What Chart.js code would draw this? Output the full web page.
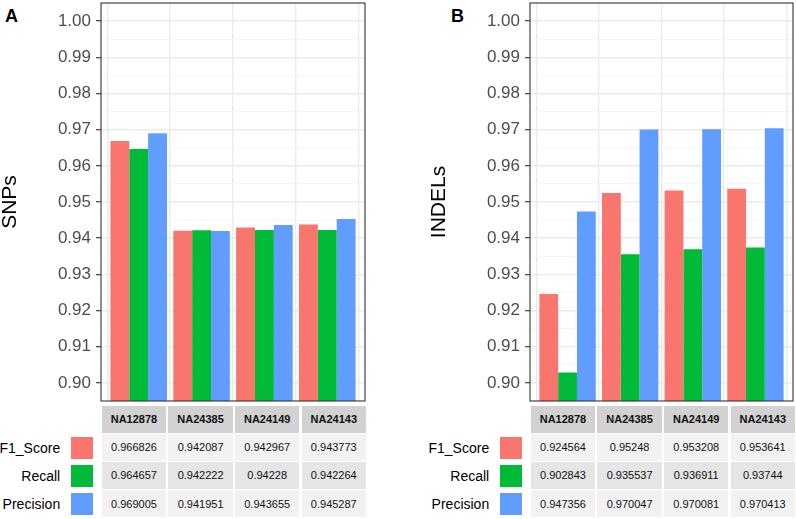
<!DOCTYPE html>
<html>
<head>
<meta charset="utf-8">
<script src="https://cdn.jsdelivr.net/npm/chart.js@4.4.1/dist/chart.umd.min.js"></script>
<style>
html,body{margin:0;padding:0;background:#fff;width:796px;height:519px;overflow:hidden;font-family:'Liberation Sans',Arial,sans-serif;}
.box{position:absolute;}
.letter{position:absolute;font-weight:bold;font-size:18px;line-height:1;color:#000;}
.cell{position:absolute;display:flex;align-items:center;justify-content:center;font-size:11px;color:#111;}
.hdr{font-weight:bold;background:#D2D2D2;}
.r0{background:#F2F2F2;}
.r1{background:#E5E5E5;}
.lab{position:absolute;font-size:14px;color:#000;text-align:right;line-height:1;}
.sw{position:absolute;}
</style>
</head>
<body>
<div class="letter" style="left:5px;top:7px;">A</div>
<div class="letter" style="left:451px;top:7px;">B</div>
<div class="box" style="left:0px;top:0px;width:369px;height:405px;"><canvas id="cA" width="369" height="405"></canvas></div>
<div class="box" style="left:429px;top:0px;width:367px;height:405px;"><canvas id="cB" width="367" height="405"></canvas></div>
<div id="tables"></div>
<script>
// ---- data ----
const categories = ['NA12878', 'NA24385', 'NA24149', 'NA24143'];
const seriesNames = ['F1_Score', 'Recall', 'Precision'];

const snpF1        = [0.966826, 0.942087, 0.942967, 0.943773];
const snpRecall    = [0.964657, 0.942222, 0.94228,  0.942264];
const snpPrecision = [0.969005, 0.941951, 0.943655, 0.945287];

const indelF1        = [0.924564, 0.95248,  0.953208, 0.953641];
const indelRecall    = [0.902843, 0.935537, 0.936911, 0.93744];
const indelPrecision = [0.947356, 0.970047, 0.970081, 0.970413];

const yTicks = [0.90, 0.91, 0.92, 0.93, 0.94, 0.95, 0.96, 0.97, 0.98, 0.99, 1.00];
const yMin = 0.895, yMax = 1.005;

const seriesColors = ['#F8766D', '#00BA38', '#619CFF'];
const FONT = "'Liberation Sans', Arial, sans-serif";

const panelBorder = {
  id: 'panelBorder',
  afterDraw(chart) {
    const {ctx, chartArea: a} = chart;
    ctx.save();
    ctx.strokeStyle = '#333333';
    ctx.lineWidth = 1.1;
    ctx.strokeRect(a.left, a.top, a.right - a.left, a.bottom - a.top);
    ctx.restore();
  }
};

function makeChart(id, series, title, padRight) {
  new Chart(document.getElementById(id), {
    type: 'bar',
    data: {
      datasets: seriesNames.map((n, k) => ({
        label: n,
        data: categories.map((c, i) => ({x: i + 1, y: series[k][i]})),
        backgroundColor: seriesColors[k],
        borderWidth: 0,
        categoryPercentage: 0.9,
        barPercentage: 1.0
      }))
    },
    options: {
      responsive: false,
      animation: false,
      events: [],
      layout: {padding: {left: 0, top: 3, right: padRight, bottom: 4}},
      plugins: {legend: {display: false}, tooltip: {enabled: false}},
      scales: {
        x: {
          type: 'linear', min: 0.4, max: 4.6, offset: false,
          afterBuildTicks: s => { s.ticks = categories.map((c, i) => ({value: i + 1})); },
          ticks: {display: false},
          grid: {color: '#EBEBEB', lineWidth: 1.4, drawTicks: false},
          border: {display: false}
        },
        y: {
          type: 'linear', min: yMin, max: yMax,
          afterBuildTicks: s => {
            const t = [];
            yTicks.forEach((v, i) => {
              t.push({value: v});
              if (i < yTicks.length - 1) t.push({value: (v + yTicks[i + 1]) / 2});
            });
            s.ticks = t;
          },
          afterFit: s => { s.width = 101; s.paddingTop = 0; s.paddingBottom = 0; },
          ticks: {
            autoSkip: false,
            padding: 5,
            color: '#4D4D4D',
            font: {family: FONT, size: 17},
            callback: (v, i) => (i % 2 === 0 ? Number(v).toFixed(2) : '')
          },
          grid: {
            color: ctx => (ctx.index % 2 === 0 ? '#EBEBEB' : '#F3F3F3'),
            lineWidth: ctx => (ctx.index % 2 === 0 ? 1.4 : 0.8),
            tickLength: 5,
            tickColor: ctx => (ctx.index % 2 === 0 ? '#333333' : 'rgba(0,0,0,0)'),
            tickWidth: 1.1
          },
          border: {display: false},
          title: {display: true, text: title, color: '#000', padding: 0,
                  font: {family: FONT, size: 21, lineHeight: 1}}
        }
      }
    },
    plugins: [panelBorder]
  });
}

makeChart('cA', [snpF1, snpRecall, snpPrecision], 'SNPs', 4);
makeChart('cB', [indelF1, indelRecall, indelPrecision], 'INDELs', 3);

// ---- tables under each panel ----
function makeTable(left, series) {
  const root = document.getElementById('tables');
  const cw = 64.6, gap = 2;
  const hdrTop = 405.5, hdrH = 27;
  const rowTop = 434, rowH = 26.5, pitch = 28.2;
  categories.forEach((c, j) => {
    const d = document.createElement('div');
    d.className = 'cell hdr';
    d.style.cssText = `left:${left + j * (cw + gap)}px;top:${hdrTop}px;width:${cw}px;height:${hdrH}px;`;
    d.textContent = c;
    root.appendChild(d);
  });
  seriesNames.forEach((n, k) => {
    const top = rowTop + k * pitch;
    categories.forEach((c, j) => {
      const d = document.createElement('div');
      d.className = 'cell ' + (k % 2 === 0 ? 'r0' : 'r1');
      d.style.cssText = `left:${left + j * (cw + gap)}px;top:${top}px;width:${cw}px;height:${rowH}px;`;
      d.textContent = String(series[k][j]);
      root.appendChild(d);
    });
    const sw = document.createElement('div');
    sw.className = 'sw';
    sw.style.cssText = `left:${left - 30.5}px;top:${top + 2.5}px;width:22px;height:22px;background:${seriesColors[k]};`;
    root.appendChild(sw);
    const lb = document.createElement('div');
    lb.className = 'lab';
    lb.style.cssText = `right:${796 - (left - 41.5)}px;top:${top + 6.5}px;`;
    lb.textContent = n;
    root.appendChild(lb);
  });
}
makeTable(101.7, [snpF1, snpRecall, snpPrecision]);
makeTable(530.7, [indelF1, indelRecall, indelPrecision]);
</script>
</body>
</html>
